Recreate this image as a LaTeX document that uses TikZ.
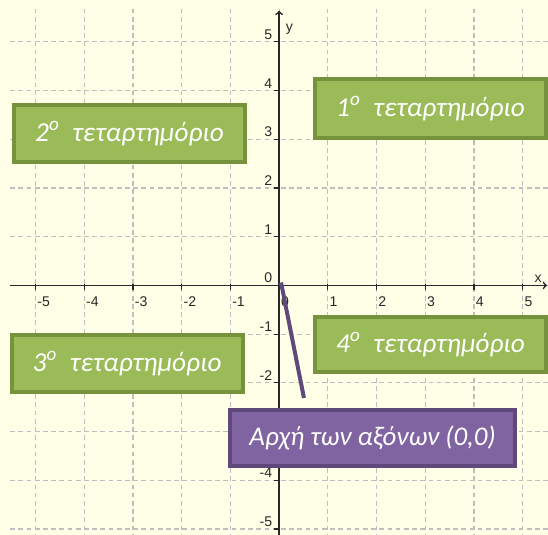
\documentclass[tikz,border=0pt]{standalone}
\usepackage{fontspec}
\setmainfont{Carlito}
\newfontfamily\axisfont{Liberation Sans}
\usepackage{xcolor}
\usepackage{tikz}
\usetikzlibrary{arrows,positioning}
\definecolor{bgcream}{RGB}{255,255,232}
\definecolor{gridgray}{RGB}{190,190,190}
\definecolor{axisgray}{RGB}{40,40,40}
\definecolor{qgreen}{RGB}{155,187,89}
\definecolor{qgreenedge}{RGB}{118,146,60}
\definecolor{qpurple}{RGB}{128,100,162}
\definecolor{qpurpleedge}{RGB}{95,73,122}

\begin{document}
\begin{tikzpicture}[
    x=1.461cm, y=1.461cm,
    gridline/.style={gridgray, line width=1pt, dash pattern=on 4pt off 3pt},
    axis/.style={axisgray, line width=1.4pt},
    ticklbl/.style={font=\axisfont\fontsize{12}{14}\selectfont, text=axisgray, inner sep=0pt},
    quadrant/.style={rectangle, draw=qgreenedge, fill=qgreen, line width=3.4pt, minimum width=6.93cm, minimum height=1.71cm, text=white, font=\fontsize{23.3}{27}\selectfont\itshape},
    originbox/.style={rectangle, draw=qpurpleedge, fill=qpurple, line width=3.4pt, minimum width=8.55cm, minimum height=1.68cm, text=white, font=\fontsize{23}{27}\selectfont\itshape}
]

% Background
\path[use as bounding box, fill=bgcream] (-5.73,-5.12) rectangle (5.52,5.86);

% Grid
\foreach \i in {-5,...,5} {
    \draw[gridline] (\i,5.68) -- (\i,-5.15);
    \draw[gridline] (-5.52,\i) -- (5.55,\i);
}

% Axes
\draw[axis, ->] (-5.52,0) -- (5.5,0);
\draw[axis, ->] (0,-5.15) -- (0,5.64);
\foreach \i in {-5,...,5} {
    \draw[axis, line width=1pt] (\i,0.02) -- (\i,-0.1);
    \draw[axis, line width=1pt] (-0.1,\i) -- (0.02,\i);
}

% Tick labels
\foreach \i in {-5,...,5} {
    \node[ticklbl, anchor=north west] (xl\i) at ([xshift=0.05cm, yshift=-0.33cm]\i,0) {\i};
}
\foreach \i in {-5,-4,-2,-1,0,1,...,5} {
    \node[ticklbl, anchor=south east] (yl\i) at ([xshift=-0.2cm, yshift=0.07cm]0,\i) {\i};
}
\node[ticklbl] (xname) at (5.32,0.13) {x};
\node[ticklbl] (yname) at (0.21,5.25) {y};

% Origin pointer
\coordinate (O) at (0.04,0.06);
\coordinate (tip) at (0.51,-2.31);
\draw[qpurpleedge, line width=3.4pt] (O) -- (tip);

% Quadrants
\node[quadrant, minimum height=1.77cm] (q1) at (3.11,3.63) {1\textsuperscript{o}\hspace{0.25em} τεταρτημόριο};
\node[quadrant] (q2) at (-3.07,3.12) {2\textsuperscript{o}\hspace{0.25em} τεταρτημόριο};
\node[quadrant] (q3) at (-3.12,-1.60) {3\textsuperscript{o}\hspace{0.25em} τεταρτημόριο};
\node[quadrant, minimum height=1.65cm] (q4) at (3.11,-1.21) {4\textsuperscript{o}\hspace{0.25em} τεταρτημόριο};

% Origin label
\node[originbox] (orig) at (1.92,-3.13) {Αρχή των αξόνων (0,0)};

\end{tikzpicture}
\end{document}
